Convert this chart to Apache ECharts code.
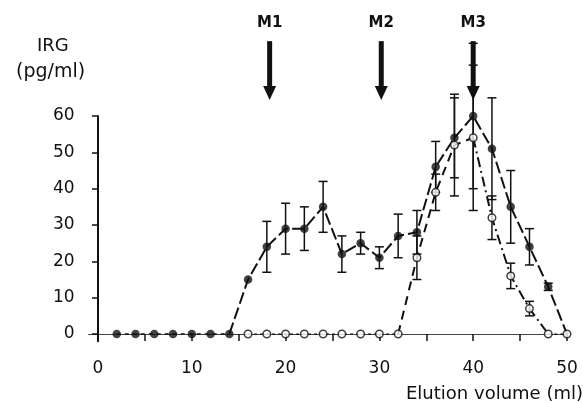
<!DOCTYPE html>
<html><head><meta charset="utf-8">
<script src="https://cdn.jsdelivr.net/npm/echarts@6/dist/echarts.min.js"></script>
<style>html,body{margin:0;padding:0;background:#fff}#c{width:583px;height:403px}</style>
</head><body><div id="c"></div>
<script>
// ---- data ----
const filledX   = [2,4,6,8,10,12,14,16,18,20,22,24,26,28,30,32,34,36,38,40,42,44,46,48,50];
const filledY   = [0,0,0,0,0,0,0,15,24,29,29,35,22,25,21,27,28,46,54,60,51,35,24,13,0];
const filledErr = [0,0,0,0,0,0,0,0,7,7,6,7,5,3,3,6,6,7,11,20,14,10,5,1,0];
const openX     = [16,18,20,22,24,26,28,30,32,34,36,38,40,42,44,46,48,50];
const openY     = [0,0,0,0,0,0,0,0,0,21,39,52,54,32,16,7,0,0];
const openErr   = [0,0,0,0,0,0,0,0,0,6,5,14,20,6,3.5,2,0,0];
const markerX      = [18.3, 30.2, 40];
const markerLabels = ['M1', 'M2', 'M3'];
const xTickValues  = [0,5,10,15,20,25,30,35,40,45,50];
const xLabelValues = [0,10,20,30,40,50];
const yTickValues  = [0,10,20,30,40,50,60];
const ARROW_TOP = 80.6, ARROW_TIP = 64.4;

const INK = '#111';
const pts = (xs, ys, a, b) => xs.slice(a, b).map((x, i) => [x, ys[a + i]]);
const lineSeries = (data, type, width) => ({
  type: 'line', data, symbol: 'none', z: 3, silent: true,
  lineStyle: { color: INK, width, type }
});

const errData = [];
filledX.forEach((x, i) => { if (filledErr[i] > 0) errData.push([x, filledY[i], filledErr[i]]); });
openX.forEach((x, i) => { if (openErr[i] > 0) errData.push([x, openY[i], openErr[i]]); });

const chart = echarts.init(document.getElementById('c'));
chart.setOption({
  animation: false,
  backgroundColor: '#fff',
  title: [
    { text: 'IRG', left: 32, top: 32, textStyle: { fontFamily: 'DejaVu Sans', fontSize: 18, fontWeight: 'normal', color: INK } },
    { text: '(pg/ml)', left: 11, top: 58, textStyle: { fontFamily: 'DejaVu Sans', fontSize: 19, fontWeight: 'normal', color: INK } },
    { text: 'Elution volume (ml)', left: 401, top: 380, textStyle: { fontFamily: 'DejaVu Sans', fontSize: 18, fontWeight: 'normal', color: INK } }
  ],
  grid: { left: 88.6, right: 16, top: 116, bottom: 61.7, containLabel: false, outerBoundsMode: 'none' },
  xAxis: {
    type: 'value', min: -1, max: 50,
    splitLine: { show: false },
    axisLine: { onZero: true, lineStyle: { color: '#444', width: 1 } },
    axisTick: { customValues: xTickValues, length: 7, lineStyle: { color: INK, width: 1.5 } },
    axisLabel: { customValues: xLabelValues, margin: 19, fontFamily: 'DejaVu Sans', fontSize: 17, color: INK }
  },
  yAxis: {
    type: 'value', min: -2, max: 60,
    splitLine: { show: false },
    axisLine: { onZero: true, lineStyle: { color: INK, width: 2 } },
    axisTick: { customValues: yTickValues, length: 6, lineStyle: { color: INK, width: 1.5 } },
    axisLabel: { customValues: yTickValues, margin: 14, fontFamily: 'DejaVu Sans', fontSize: 17, color: INK }
  },
  series: [
    lineSeries(pts(filledX, filledY, 0, 7), [4, 4], 1.5),
    lineSeries(pts(filledX, filledY, 6, 25), [12, 4], 2),
    lineSeries(pts(openX, openY, 0, 9), [3, 3], 1.2),
    lineSeries(pts(openX, openY, 8, 13), [9, 6], 2),
    lineSeries(pts(openX, openY, 12, 17), [10, 4, 2, 4], 2),
    lineSeries(pts(openX, openY, 16, 18), [3, 3], 1.2),
    {
      type: 'custom', clip: false, z: 4, silent: true,
      data: errData, encode: { x: 0, y: 1 },
      renderItem: (params, api) => {
        const x = api.value(0), y = api.value(1), e = api.value(2);
        const hi = api.coord([x, y + e]), lo = api.coord([x, y - e]);
        const w = 4.5, st = { stroke: INK, lineWidth: 1.5 };
        return { type: 'group', children: [
          { type: 'line', shape: { x1: hi[0], y1: hi[1], x2: lo[0], y2: lo[1] }, style: st },
          { type: 'line', shape: { x1: hi[0] - w, y1: hi[1], x2: hi[0] + w, y2: hi[1] }, style: st },
          { type: 'line', shape: { x1: lo[0] - w, y1: lo[1], x2: lo[0] + w, y2: lo[1] }, style: st }
        ]};
      }
    },
    {
      type: 'scatter', z: 6, silent: true,
      data: pts(filledX, filledY, 0, 24),
      symbol: 'circle', symbolSize: 8.5,
      itemStyle: { color: INK }
    },
    {
      type: 'scatter', z: 6, silent: true,
      data: pts(openX, openY, 0, 18),
      symbol: 'circle', symbolSize: 7.5,
      itemStyle: { color: '#fff', borderColor: INK, borderWidth: 1.5 }
    },
    {
      type: 'custom', clip: false, z: 7, silent: true,
      data: markerX.map(x => [x, 60]), encode: { x: 0, y: 1 },
      renderItem: (params, api) => {
        const x = api.value(0);
        const top = api.coord([x, ARROW_TOP]), tip = api.coord([x, ARROW_TIP]);
        const headH = 14, headW = 6.5, shaftW = 5;
        return { type: 'group', children: [
          { type: 'rect', shape: { x: top[0] - shaftW / 2, y: top[1], width: shaftW, height: tip[1] - headH - top[1] + 1 }, style: { fill: INK } },
          { type: 'polygon', shape: { points: [[tip[0] - headW, tip[1] - headH], [tip[0] + headW, tip[1] - headH], [tip[0], tip[1]]] }, style: { fill: INK } },
          { type: 'text', x: top[0], y: top[1] - 18, style: { text: markerLabels[params.dataIndex], fill: INK, font: 'bold 15px "DejaVu Sans"', align: 'center', verticalAlign: 'middle' } }
        ]};
      }
    }
  ]
});
</script>
</body></html>
